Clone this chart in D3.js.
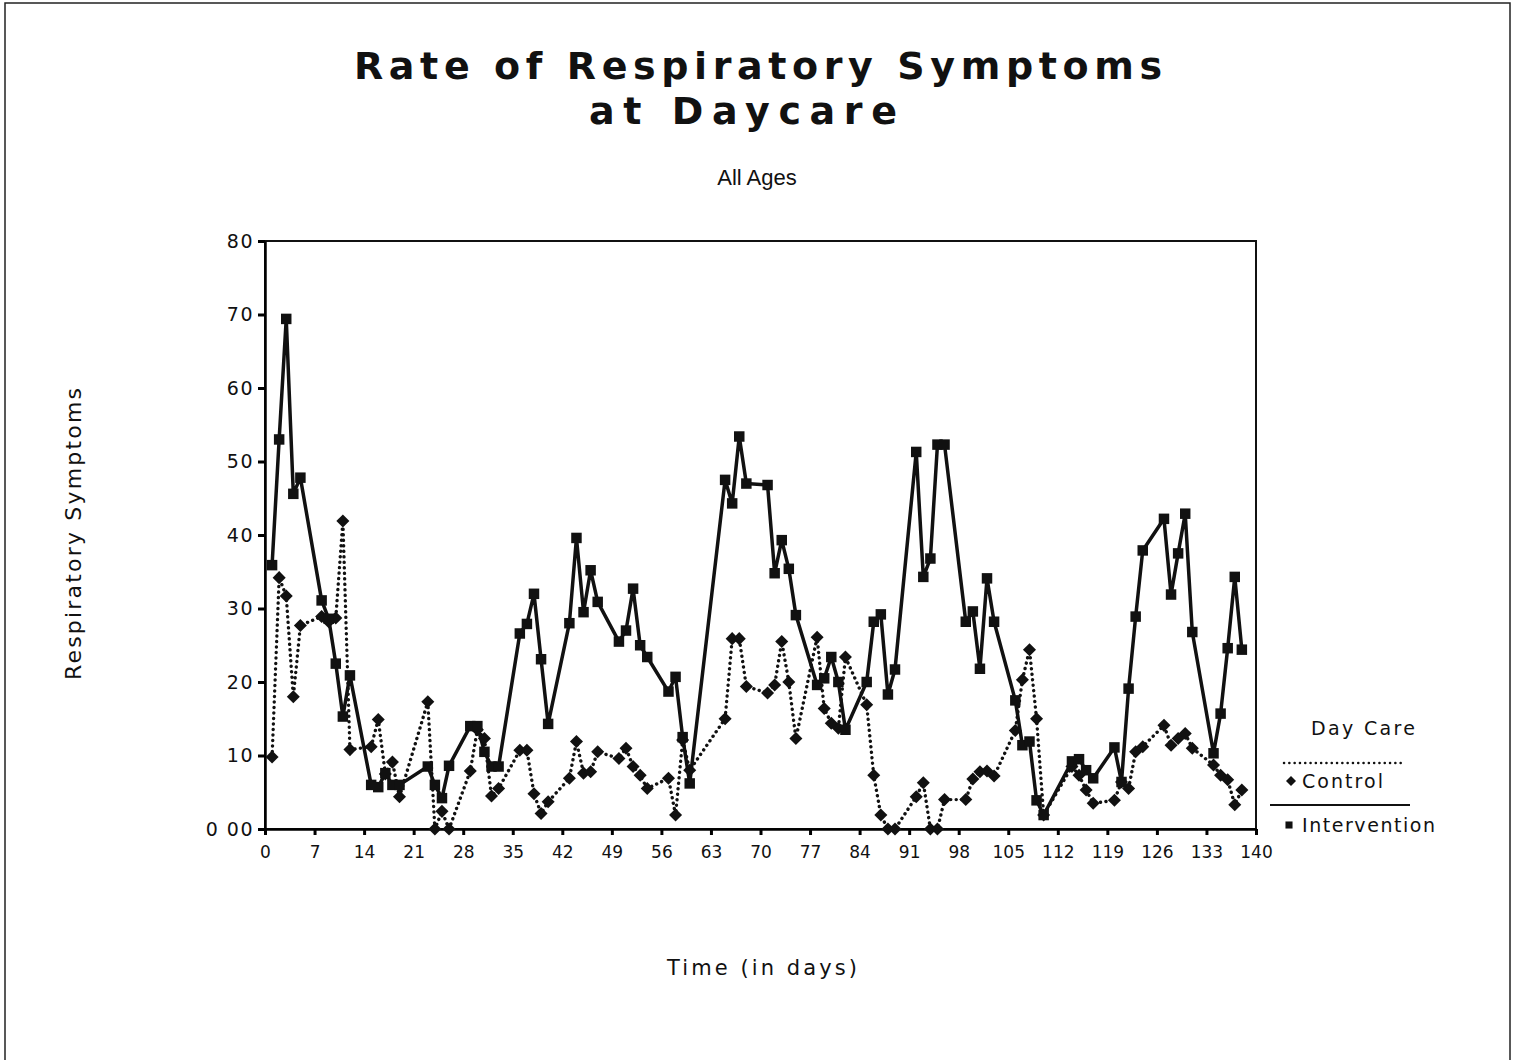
<!DOCTYPE html>
<html>
<head>
<meta charset="utf-8">
<script src="https://cdn.jsdelivr.net/npm/d3@7"></script>
<style>
  body { margin: 0; background: #fff; }
  svg { display: block; }
  text { font-family: "DejaVu Sans", "Liberation Sans", Arial, sans-serif; fill: #111; }
</style>
</head>
<body>
<div id="chart"></div>
<script>
// school days (weekends / holidays skipped)
var days = [1,2,3,4,5, 8,9,10,11,12, 15,16,17,18,19, 23,24,25,26, 29,30,31,32,33,
  36,37,38,39,40, 43,44,45,46,47, 50,51,52,53,54, 57,58,59,60, 65,66,67,68,
  71,72,73,74,75, 78,79,80,81,82, 85,86,87,88,89, 92,93,94,95,96,
  99,100,101,102,103, 106,107,108,109,110, 114,115,116,117,
  120,121,122,123,124, 127,128,129,130,131, 134,135,136,137,138];

var intervention = [35.9,53.0,69.4,45.6,47.8, 31.1,28.6,22.5,15.3,20.9, 6.0,5.7,7.6,6.0,6.0,
  8.5,6.0,4.2,8.6, 14.0,14.0,10.5,8.5,8.5, 26.6,27.9,32.0,23.1,14.3,
  28.0,39.6,29.5,35.2,30.9, 25.5,27.0,32.7,25.0,23.4, 18.7,20.7,12.5,6.2,
  47.5,44.3,53.4,47.0, 46.8,34.8,39.3,35.4,29.1, 19.6,20.5,23.4,20.0,13.5,
  20.0,28.2,29.2,18.3,21.7, 51.3,34.3,36.8,52.3,52.3, 28.2,29.6,21.8,34.1,28.2,
  17.5,11.4,11.9,3.9,1.9, 9.2,9.5,8.0,6.9, 11.1,6.4,19.1,28.9,37.9,
  42.2,31.9,37.5,42.9,26.8, 10.3,15.7,24.6,34.3,24.4];

var control = [9.8,34.2,31.7,18.0,27.7, 28.9,28.2,28.7,41.9,10.8, 11.2,14.9,7.5,9.1,4.4,
  17.3,0,2.4,0, 7.9,13.5,12.3,4.5,5.5, 10.7,10.7,4.8,2.1,3.7,
  6.9,11.9,7.6,7.8,10.5, 9.6,11.0,8.5,7.3,5.5, 6.9,1.9,12.1,8.0,
  15.0,25.9,25.9,19.4, 18.5,19.6,25.5,20.0,12.3, 26.1,16.4,14.4,13.7,23.4,
  16.9,7.3,1.9,0,0, 4.4,6.3,0,0,4.0, 4.0,6.8,7.8,7.9,7.2,
  13.4,20.3,24.4,15.0,1.9, 8.5,7.3,5.3,3.5, 3.9,6.4,5.5,10.5,11.2,
  14.1,11.4,12.3,13.0,11.0, 8.7,7.3,6.7,3.3,5.3];

var xTicks = [0,7,14,21,28,35,42,49,56,63,70,77,84,91,98,105,112,119,126,133,140];
var yTicks = [0,10,20,30,40,50,60,70,80];
var yTickLabels = ["0 00","10","20","30","40","50","60","70","80"];

var W = 1522, H = 1060;
var margin = { top: 241, right: 266, bottom: 231, left: 265 };
var width = 1256 - margin.left, height = 829 - margin.top;

var svg = d3.select("#chart").append("svg")
  .attr("width", W)
  .attr("height", H);

// page frame of the scanned sheet
svg.append("rect")
  .attr("x", 5).attr("y", 3)
  .attr("width", 1505).attr("height", 1100)
  .attr("fill", "none")
  .attr("stroke", "#222")
  .attr("stroke-width", 1.5);

svg.append("text")
  .attr("x", 758).attr("y", 79)
  .attr("text-anchor", "middle")
  .attr("textLength", 808).attr("lengthAdjust", "spacing")
  .style("font-size", "38px").style("font-weight", "bold")
  .text("Rate of Respiratory Symptoms");
svg.append("text")
  .attr("x", 743).attr("y", 124)
  .attr("text-anchor", "middle")
  .attr("textLength", 308).attr("lengthAdjust", "spacing")
  .style("font-size", "38px").style("font-weight", "bold")
  .text("at Daycare");
svg.append("text")
  .attr("x", 757).attr("y", 185)
  .attr("text-anchor", "middle")
  .style("font-family", "'Liberation Sans', Arial, sans-serif")
  .style("font-size", "22px")
  .text("All Ages");

var g = svg.append("g")
  .attr("transform", "translate(" + margin.left + "," + margin.top + ")");

var x = d3.scaleLinear().domain([0, 140]).range([0, width]);
var y = d3.scaleLinear().domain([0, 80]).range([height, 0]);

// plot box
g.append("rect")
  .attr("width", width).attr("height", height)
  .attr("fill", "none").attr("stroke", "#111").attr("stroke-width", 2);

var xAxis = d3.axisBottom(x).tickValues(xTicks).tickSize(6).tickSizeOuter(0);
var yAxis = d3.axisLeft(y).tickValues(yTicks).tickSize(7).tickSizeOuter(0)
  .tickFormat(function(d, i) { return yTickLabels[i]; });

g.append("g")
  .attr("class", "x axis")
  .attr("transform", "translate(0," + height + ")")
  .call(xAxis)
  .call(function(a) {
    a.select(".domain").attr("stroke-width", 2.5);
    a.selectAll("line").attr("stroke-width", 3);
    a.selectAll("text").attr("dy", "1.15em").style("font-size", "17px").attr("fill", "#111");
  });

g.append("g")
  .attr("class", "y axis")
  .call(yAxis)
  .call(function(a) {
    a.select(".domain").attr("stroke-width", 2.5);
    a.selectAll("line").attr("stroke-width", 3);
    a.selectAll("text").attr("x", -11)
      .style("font-size", "19px").style("letter-spacing", "1.5px").attr("fill", "#111");
  });

svg.append("text")
  .attr("transform", "translate(81,534) rotate(-90)")
  .attr("text-anchor", "middle")
  .attr("textLength", 292).attr("lengthAdjust", "spacing")
  .style("font-size", "22px")
  .text("Respiratory Symptoms");

svg.append("text")
  .attr("x", 762).attr("y", 975)
  .attr("text-anchor", "middle")
  .attr("textLength", 190).attr("lengthAdjust", "spacing")
  .style("font-size", "21px")
  .text("Time (in days)");

var ctrlData = days.map(function(d, i) { return { day: d, value: control[i] }; });
var intData = days.map(function(d, i) { return { day: d, value: intervention[i] }; });

var line = d3.line()
  .x(function(d) { return x(d.day); })
  .y(function(d) { return y(d.value); });

g.append("path")
  .datum(ctrlData)
  .attr("d", line)
  .attr("fill", "none")
  .attr("stroke", "#111")
  .attr("stroke-width", 3.4)
  .attr("stroke-linecap", "round")
  .attr("stroke-dasharray", "0.1,5.4");

g.append("path")
  .datum(intData)
  .attr("d", line)
  .attr("fill", "none")
  .attr("stroke", "#111")
  .attr("stroke-width", 3.5)
  .attr("stroke-linejoin", "round");

// diamonds are rotated squares, like the plotter's markers
var diamond = d3.symbol().type(d3.symbolSquare).size(85);
var square = d3.symbol().type(d3.symbolSquare).size(110);

g.selectAll(".ctrl")
  .data(ctrlData)
  .enter()
  .append("path")
  .attr("class", "ctrl")
  .attr("d", diamond)
  .attr("fill", "#111")
  .attr("transform", function(d) {
    return "translate(" + x(d.day) + "," + y(d.value) + ") rotate(45)";
  });

g.selectAll(".int")
  .data(intData)
  .enter()
  .append("path")
  .attr("class", "int")
  .attr("d", square)
  .attr("fill", "#111")
  .attr("transform", function(d) { return "translate(" + x(d.day) + "," + y(d.value) + ")"; });

// legend
var lg = svg.append("g");
lg.append("text")
  .attr("x", 1363).attr("y", 735)
  .attr("text-anchor", "middle")
  .attr("textLength", 104).attr("lengthAdjust", "spacing")
  .style("font-size", "19px")
  .text("Day Care");
lg.append("line")
  .attr("x1", 1284).attr("x2", 1405).attr("y1", 763).attr("y2", 763)
  .attr("stroke", "#111").attr("stroke-width", 2.5)
  .attr("stroke-linecap", "round").attr("stroke-dasharray", "0.1,5.2");
lg.append("path")
  .attr("d", d3.symbol().type(d3.symbolSquare).size(50))
  .attr("transform", "translate(1291,781) rotate(45)").attr("fill", "#111");
lg.append("text")
  .attr("x", 1302).attr("y", 788)
  .attr("textLength", 81).attr("lengthAdjust", "spacing")
  .style("font-size", "19px")
  .text("Control");
lg.append("line")
  .attr("x1", 1270).attr("x2", 1410).attr("y1", 805).attr("y2", 805)
  .attr("stroke", "#111").attr("stroke-width", 2);
lg.append("path")
  .attr("d", d3.symbol().type(d3.symbolSquare).size(50))
  .attr("transform", "translate(1289,825)").attr("fill", "#111");
lg.append("text")
  .attr("x", 1302).attr("y", 832)
  .attr("textLength", 133).attr("lengthAdjust", "spacing")
  .style("font-size", "19px")
  .text("Intervention");
</script>
</body>
</html>
